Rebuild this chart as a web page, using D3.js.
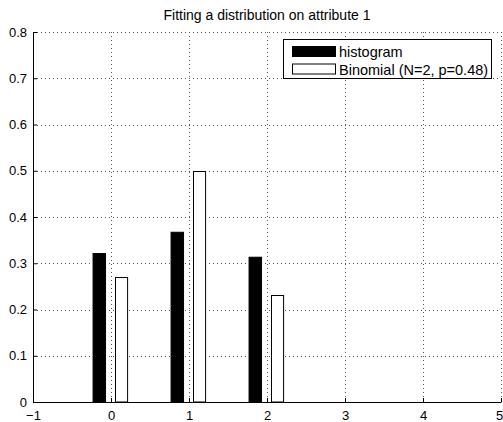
<!DOCTYPE html>
<html>
<head>
<meta charset="utf-8">
<script src="https://cdn.jsdelivr.net/npm/d3@7"></script>
<style>
  body { margin: 0; background: #fff; }
  svg { font-family: "Liberation Sans", Arial, sans-serif; }
</style>
</head>
<body>
<div id="chart"></div>
<script>
// values
var categories = [0, 1, 2];
var histValues = [0.321, 0.367, 0.313];
var binomValues = [0.2704, 0.4992, 0.2304];
var xTicks = [-1, 0, 1, 2, 3, 4, 5];
var yTicks = [0, 0.1, 0.2, 0.3, 0.4, 0.5, 0.6, 0.7, 0.8];
var legendLabels = ["histogram", "Binomial (N=2, p=0.48)"];

var svgWidth = 503;
var svgHeight = 422;

var margin = { top: 32, right: 2, bottom: 20, left: 33 };
var width = svgWidth - margin.left - margin.right;
var height = svgHeight - margin.top - margin.bottom;

var svg = d3.select("#chart")
  .append("svg")
  .attr("width", svgWidth)
  .attr("height", svgHeight);

var chartGroup = svg.append("g")
  .attr("transform", `translate(${margin.left}, ${margin.top})`);

var x = d3.scaleLinear().domain([-1, 5]).range([0, width]);
var y = d3.scaleLinear().domain([0, 0.8]).range([height, 0]);

// dotted grid
chartGroup.append("g")
  .selectAll("line")
  .data(xTicks.slice(1))
  .enter()
  .append("line")
  .attr("x1", d => Math.round(x(d)) + 0.5).attr("x2", d => Math.round(x(d)) + 0.5)
  .attr("y1", 0).attr("y2", height)
  .attr("stroke", "#555")
  .attr("stroke-width", 1)
  .attr("stroke-dasharray", "1,3");

chartGroup.append("g")
  .selectAll("line")
  .data(yTicks.slice(1))
  .enter()
  .append("line")
  .attr("x1", 0).attr("x2", width)
  .attr("y1", d => Math.round(y(d)) + 0.5).attr("y2", d => Math.round(y(d)) + 0.5)
  .attr("stroke", "#555")
  .attr("stroke-width", 1)
  .attr("stroke-dasharray", "1,3");

// bars
var barW = 0.16;
chartGroup.selectAll("rect.hist")
  .data(categories)
  .enter()
  .append("rect")
  .attr("class", "hist")
  .attr("x", (d) => x(d - 0.23))
  .attr("width", x(barW) - x(0))
  .attr("y", (d, i) => y(histValues[i]))
  .attr("height", (d, i) => height - y(histValues[i]))
  .attr("fill", "#000")
  .attr("stroke", "#000");

chartGroup.selectAll("rect.binom")
  .data(categories)
  .enter()
  .append("rect")
  .attr("class", "binom")
  .attr("x", (d) => Math.round(x(d + 0.055)) + 0.5)
  .attr("width", x(0.155) - x(0))
  .attr("y", (d, i) => Math.round(y(binomValues[i])) + 0.5)
  .attr("height", (d, i) => height - Math.round(y(binomValues[i])) - 0.5)
  .attr("fill", "#fff")
  .attr("stroke", "#000");

// axes
var bottomAxis = d3.axisBottom(x).tickValues(xTicks)
  .tickSizeInner(-4).tickSizeOuter(0).tickPadding(9)
  .tickFormat(d => d < 0 ? "\u2212" + Math.abs(d) : d);
var leftAxis = d3.axisLeft(y).tickValues(yTicks)
  .tickSizeInner(-4).tickSizeOuter(0).tickPadding(6)
  .tickFormat(d => d === 0 ? "0" : d3.format(".1f")(d));

var xAxis = chartGroup.append("g")
  .attr("transform", `translate(0, ${height})`)
  .call(bottomAxis);
var yAxis = chartGroup.append("g")
  .call(leftAxis);

[xAxis, yAxis].forEach(function(a) {
  a.attr("font-size", 13);
  a.selectAll("text").attr("font-size", 13).attr("fill", "#000")
    .attr("font-family", "Liberation Sans, Arial, sans-serif");
  a.selectAll("line").attr("stroke", "#000");
  a.select(".domain").attr("stroke", "#000");
});
// keep the last x label inside the picture
xAxis.selectAll(".tick text").filter(d => d === 5).attr("dx", -2);

// title
svg.append("text")
  .attr("x", margin.left + width / 2)
  .attr("y", 20)
  .attr("text-anchor", "middle")
  .attr("font-size", 14)
  .text("Fitting a distribution on attribute 1");

// legend
var legend = svg.append("g");
legend.append("rect")
  .attr("x", 283.5).attr("y", 39.5)
  .attr("width", 208).attr("height", 39)
  .attr("fill", "#fff").attr("stroke", "#000");

var fills = ["#000", "#fff"];
legendLabels.forEach(function(label, i) {
  legend.append("rect")
    .attr("x", 292.5).attr("y", 46.5 + i * 17.5)
    .attr("width", 43).attr("height", 10)
    .attr("fill", fills[i]).attr("stroke", "#000");
  legend.append("text")
    .attr("x", 339).attr("y", 57 + i * 17.5)
    .attr("font-size", 14.5)
    .text(label);
});
</script>
</body>
</html>
